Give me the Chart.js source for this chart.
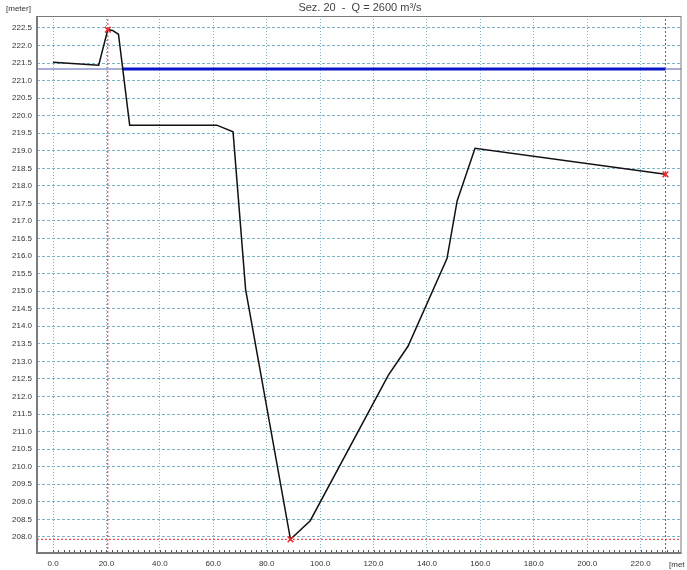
<!DOCTYPE html>
<html>
<head>
<meta charset="utf-8">
<script src="https://cdn.jsdelivr.net/npm/chart.js@4.4.1/dist/chart.umd.min.js"></script>
<style>
  body { margin: 0; background: #fff; }
  #wrap { width: 687px; height: 570px; position: relative; }
</style>
</head>
<body>
<div id="wrap"><canvas id="chartSez"></canvas></div>
<script>
// sezione trasversale: progressiva [m] e quota [m]
const progressiva = [0, 17.1, 20.5, 22.3, 24.5, 28.7, 61.3, 67.4, 72.1, 88.9, 96.3, 125.5, 132.9, 147.5, 151.3, 158.0, 229.3];
const quota = [221.52, 221.44, 222.45, 222.43, 222.32, 219.73, 219.73, 219.54, 215.05, 207.93, 208.46, 212.6, 213.43, 215.93, 217.57, 219.07, 218.33];

// pelo libero
const livelloAcqua = 221.33;
const acquaInizio = 26.1;
const acquaFine = 229.3;

// punti notevoli (sponda sx, fondo, sponda dx)
const puntiX = [20.5, 88.9, 229.3];
const puntiY = [222.45, 207.93, 218.33];

const xMin = -6, xMax = 235.3;
const yMin = 207.54, yMax = 222.84;

const titolo = "Sez. 20  -  Q = 2600 m\u00B3/s";
const FONT = "'Liberation Sans', Arial, sans-serif";

const rosso = "#f0282d";
const griglia = "#7db3c4";

function serie(xs, ys) {
  const out = [];
  for (let i = 0; i < xs.length; i++) out.push({ x: xs[i], y: ys[i] });
  return out;
}

const decorazioni = {
  id: "decorazioni",
  afterDraw: function (chart) {
    const ctx = chart.ctx;
    const a = chart.chartArea;
    const sx = chart.scales.x;
    ctx.save();
    // cornice
    ctx.strokeStyle = "#7a7a7a";
    ctx.lineWidth = 1;
    ctx.strokeRect(a.left + 0.5, a.top + 0.5, a.right - a.left - 1, a.bottom - a.top - 1);
    ctx.lineWidth = 2;
    ctx.beginPath();
    ctx.moveTo(a.left, a.top);
    ctx.lineTo(a.left, a.bottom);
    ctx.lineTo(a.right, a.bottom);
    ctx.stroke();
    // tacche minori asse x
    ctx.strokeStyle = "#555";
    ctx.lineWidth = 1;
    ctx.beginPath();
    for (let v = 0; v <= xMax; v += 2) {
      const px = Math.round(sx.getPixelForValue(v)) + 0.5;
      ctx.moveTo(px, a.bottom - 3);
      ctx.lineTo(px, a.bottom - 1);
    }
    ctx.stroke();
    // testi
    ctx.fillStyle = "#444";
    ctx.font = "11px " + FONT;
    ctx.textAlign = "center";
    ctx.textBaseline = "middle";
    ctx.fillText(titolo, 360, 8);
    ctx.fillStyle = "#333";
    ctx.font = "8px " + FONT;
    ctx.textAlign = "left";
    ctx.fillText("[meter]", 6, 9);
    ctx.fillText("[met", 669, 565);
    ctx.restore();
  }
};

// linee tratteggiate rosse: tracciate dopo la griglia, prima dei dataset
function lineaRossa(label, punti) {
  return {
    label: label,
    data: punti,
    showLine: true,
    borderColor: rosso,
    backgroundColor: rosso,
    borderWidth: 1,
    borderDash: [2, 2],
    pointRadius: 0,
    order: 6
  };
}

const ctx = document.getElementById("chartSez").getContext("2d");

new Chart(ctx, {
  type: "scatter",
  data: {
    datasets: [
      {
        label: "pelo libero (esteso)",
        data: [{ x: xMin, y: livelloAcqua }, { x: xMax, y: livelloAcqua }],
        showLine: true,
        borderColor: "#a9aed8",
        borderWidth: 2,
        pointRadius: 0,
        order: 5
      },
      {
        label: "pelo libero",
        data: [{ x: acquaInizio, y: livelloAcqua }, { x: acquaFine, y: livelloAcqua }],
        showLine: true,
        borderColor: "#0a14c8",
        borderWidth: 3,
        pointRadius: 0,
        order: 4
      },
      {
        label: "sezione",
        data: serie(progressiva, quota),
        showLine: true,
        borderColor: "#111",
        borderWidth: 1.5,
        pointRadius: 0,
        tension: 0,
        order: 3
      },
      lineaRossa("sponda sx", [{ x: puntiX[0], y: yMin }, { x: puntiX[0], y: yMax }]),
      lineaRossa("sponda dx", [{ x: puntiX[2], y: yMin }, { x: puntiX[2], y: yMax }]),
      lineaRossa("fondo", [{ x: xMin, y: puntiY[1] }, { x: xMax, y: puntiY[1] }]),
      {
        label: "punti",
        data: serie(puntiX, puntiY),
        showLine: false,
        pointStyle: "crossRot",
        pointRadius: 4,
        borderColor: rosso,
        borderWidth: 1.5,
        order: 1
      }
    ]
  },
  options: {
    responsive: true,
    maintainAspectRatio: false,
    animation: false,
    layout: { padding: { left: 0, top: 16, right: 2, bottom: 0 } },
    plugins: {
      legend: { display: false },
      tooltip: { enabled: false },
      title: { display: false }
    },
    scales: {
      x: {
        type: "linear",
        min: xMin,
        max: xMax,
        afterFit: function (s) { s.height = 17; },
        ticks: {
          stepSize: 20,
          includeBounds: false,
          maxRotation: 0,
          padding: 6,
          color: "#333",
          font: { family: FONT, size: 8 },
          callback: function (v) { return Number(v).toFixed(1); }
        },
        grid: { color: griglia, lineWidth: 1, drawTicks: false },
        border: { display: false, dash: [1, 2] }
      },
      y: {
        type: "linear",
        min: yMin,
        max: yMax,
        afterFit: function (s) { s.width = 37; },
        ticks: {
          stepSize: 0.5,
          includeBounds: false,
          padding: 5,
          color: "#333",
          font: { family: FONT, size: 8 },
          callback: function (v) { return Number(v).toFixed(1); }
        },
        grid: { color: griglia, lineWidth: 1, drawTicks: false },
        border: { display: false, dash: [3, 2] }
      }
    }
  },
  plugins: [decorazioni]
});
</script>
</body>
</html>
